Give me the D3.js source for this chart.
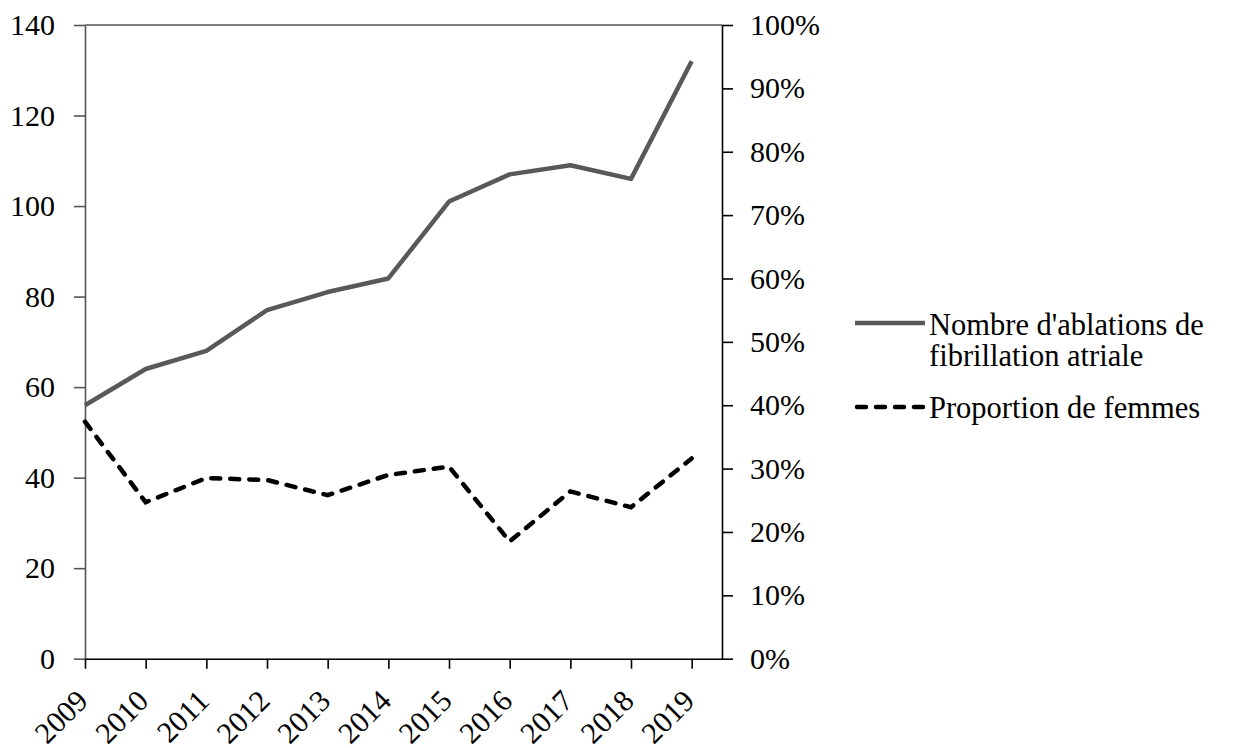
<!DOCTYPE html>
<html>
<head>
    <style>
        body { margin: 0; background: #fff; }
        svg text { font-family: "Liberation Serif", "Times New Roman", serif; fill: #000; }
        .legend text { font-size: 30.5px; }
    </style>
    <script src="https://d3js.org/d3.v7.min.js"></script>
</head>
<body>
<svg width="1234" height="748"></svg>
<script>
    // data
    var years = ["2009", "2010", "2011", "2012", "2013", "2014", "2015", "2016", "2017", "2018", "2019"];
    var ablations = [56, 64, 68, 77, 81, 84, 101, 107, 109, 106, 132];
    var femmes = [0.374, 0.247, 0.285, 0.282, 0.258, 0.29, 0.303, 0.185, 0.264, 0.239, 0.316];
    var leftTicks = [0, 20, 40, 60, 80, 100, 120, 140];
    var rightTicks = [0, 0.1, 0.2, 0.3, 0.4, 0.5, 0.6, 0.7, 0.8, 0.9, 1];

    var svg = d3.select("svg");
    var plotLeft = 85, plotRight = 722, plotTop = 25, plotBottom = 658.7;

    var x = d3.scaleLinear().domain([0, 10.5]).range([plotLeft, plotRight]);
    var yL = d3.scaleLinear().domain([0, 140]).range([plotBottom, plotTop]);
    var yR = d3.scaleLinear().domain([0, 1]).range([plotBottom, plotTop]);

    // top frame line
    svg.append("line")
        .attr("x1", plotLeft).attr("x2", plotRight)
        .attr("y1", yL(140)).attr("y2", yL(140))
        .attr("stroke", "#555").attr("stroke-width", 1.6);

    var axL = svg.append("g")
        .attr("transform", "translate(" + plotLeft + ",0)")
        .call(d3.axisLeft(yL).tickValues(leftTicks).tickSize(11).tickPadding(19).tickSizeOuter(0));
    axL.selectAll("path, line").attr("stroke", "#555").attr("stroke-width", 1.6);

    var axR = svg.append("g")
        .attr("transform", "translate(" + plotRight + ",0)")
        .call(d3.axisRight(yR).tickValues(rightTicks).tickSize(11).tickPadding(17).tickSizeOuter(0)
            .tickFormat(d3.format(".0%")));
    axR.selectAll("path, line").attr("stroke", "#000").attr("stroke-width", 1.6);

    var axB = svg.append("g")
        .attr("transform", "translate(0," + plotBottom + ")")
        .call(d3.axisBottom(x).tickValues(d3.range(years.length)).tickSize(10).tickSizeOuter(0)
            .tickFormat(function (i) { return years[i]; }));
    axB.selectAll("path, line").attr("stroke", "#000").attr("stroke-width", 1.6);
    axB.selectAll("text")
        .attr("text-anchor", "end")
        .attr("dy", null)
        .attr("y", null)
        .attr("transform", "translate(4,44) rotate(-45)");

    svg.selectAll(".tick text")
        .style("font-family", "'Liberation Serif', 'Times New Roman', serif")
        .style("font-size", "30px")
        .attr("fill", "#000");

    var lineL = d3.line().x(function (d, i) { return x(i); }).y(function (d) { return yL(d); });
    var lineR = d3.line().x(function (d, i) { return x(i); }).y(function (d) { return yR(d); });

    svg.append("path")
        .datum(ablations)
        .attr("d", lineL)
        .attr("fill", "none")
        .attr("stroke", "#595959")
        .attr("stroke-width", 4.5)
        .attr("stroke-linejoin", "round");

    svg.append("path")
        .datum(femmes)
        .attr("d", lineR)
        .attr("fill", "none")
        .attr("stroke", "#000")
        .attr("stroke-width", 4.5)
        .attr("stroke-linecap", "round")
        .attr("stroke-dasharray", "9,10");

    // legend
    var legend = svg.append("g").attr("class", "legend");
    legend.append("line")
        .attr("x1", 855).attr("x2", 925).attr("y1", 323).attr("y2", 323)
        .attr("stroke", "#595959").attr("stroke-width", 4.5);
    legend.append("text").attr("x", 929).attr("y", 335).text("Nombre d'ablations de");
    legend.append("text").attr("x", 929).attr("y", 366).text("fibrillation atriale");
    legend.append("line")
        .attr("x1", 857).attr("x2", 923).attr("y1", 407).attr("y2", 407)
        .attr("stroke", "#000").attr("stroke-width", 4.5)
        .attr("stroke-linecap", "round").attr("stroke-dasharray", "9,10");
    legend.append("text").attr("x", 929).attr("y", 418).text("Proportion de femmes");
</script>
</body>
</html>
